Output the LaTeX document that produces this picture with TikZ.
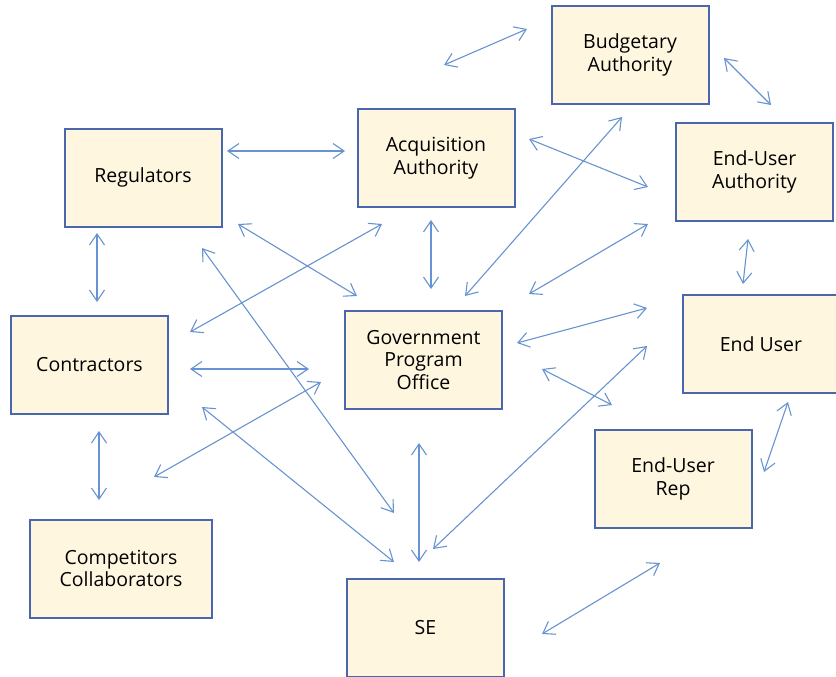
\documentclass[tikz,border=0pt]{standalone}
\usepackage{fontspec}
\setmainfont{Open Sans}
\usetikzlibrary{arrows.meta}
\definecolor{edge}{HTML}{4A66AC}
\definecolor{cream}{HTML}{FEF6DF}
\definecolor{link}{HTML}{6793D0}

\begin{document}
\begin{tikzpicture}[x=1pt,y=-1pt,
    font=\fontsize{19.5}{22.5}\selectfont,
    party/.style={draw=edge,line width=2pt,fill=cream,minimum width=157pt,
                  minimum height=98pt,align=center,inner sep=4pt,text=black},
    flow/.style={draw=link,line width=1.1pt,
                 {Straight Barb[length=11pt,width=15pt]}-{Straight Barb[length=11pt,width=15pt]}}]
  \useasboundingbox (0,0) rectangle (836,677);

  \node[party] (bud) at (630,55)    {Budgetary\\Authority};
  \node[party] (reg) at (143,177.5) {Regulators};
  \node[party] (acq) at (436,158)   {Acquisition\\Authority};
  \node[party] (eua) at (754.5,172) {End-User\\Authority};
  \node[party] (con) at (89.5,365)  {Contractors};
  \node[party] (gpo) at (423.5,360) {Government\\Program\\Office};
  \node[party] (eu)  at (761,344)   {End User};
  \node[party] (rep) at (673,479)   {End-User\\Rep};
  \node[party,minimum width=182pt] (com) at (121,568.5) {Competitors\\Collaborators};
  \node[party] (se)  at (425.5,627.5) {SE};

  % arrow ends, a/b pairs
  \foreach \i/\ax/\ay/\bx/\by in {
      1/444/65/527/29,    2/724/58/771/105,   3/227/151/345/151,
      4/529/139/648/187,  5/622/117/465/296,  6/97/233/97/302,
      7/238/224/357/296,  8/382/224/190/332,  9/431/220/431/289,
      10/648/224/529/294, 11/748/239/743/284, 12/202/248/394/513,
      13/190/369/309/369, 14/154/477/321/382, 15/202/407/394/562,
      16/99/431/99/500,   17/419/443/419/562, 18/647/346/433/549,
      19/517/343/647/308, 20/542/369/612/405, 21/788/402/764/472,
      22/542/634/660/563} {
    \coordinate (a\i) at (\ax,\ay);
    \coordinate (b\i) at (\bx,\by);
    \draw[flow] (a\i) -- (b\i);
  }
\end{tikzpicture}
\end{document}
